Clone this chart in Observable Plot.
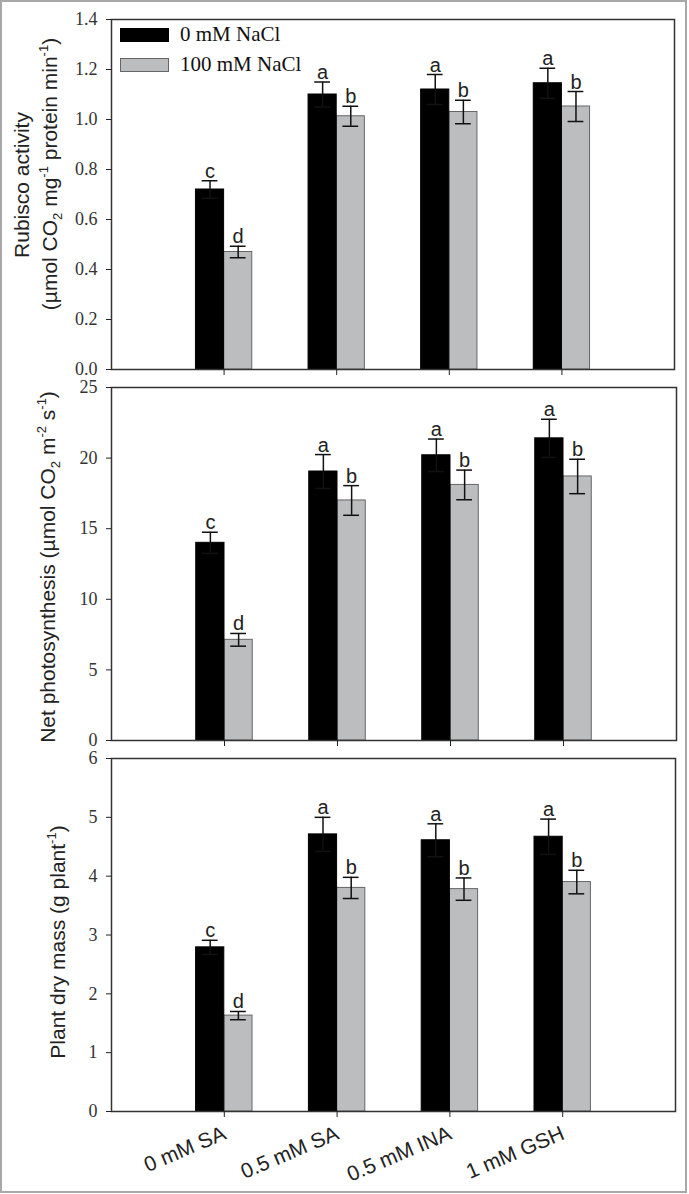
<!DOCTYPE html>
<html>
<head>
<meta charset="utf-8">
<script src="https://cdn.jsdelivr.net/npm/d3@7"></script>
<script src="https://cdn.jsdelivr.net/npm/@observablehq/plot@0.6"></script>
<style>
  html, body { margin: 0; padding: 0; background: #fff; }
  #wrap { position: relative; width: 689px; height: 1194px; overflow: hidden; }
  #border { position: absolute; left: 0; top: 0; width: 683px; height: 1189px; border: 2px solid #a8a8a8; }
  .pane { position: absolute; left: 0; }
  .pane svg { overflow: visible; }
  #legend { position: absolute; left: 120px; top: 28px; font-family: "Liberation Serif", serif; font-size: 21px; color: #111; }
  .lg { position: relative; height: 30px; }
  .sw { position: absolute; left: 0; width: 49px; height: 14px; box-sizing: border-box; }
  .lt { position: absolute; left: 60px; top: -6px; white-space: nowrap; }
</style>
</head>
<body>
<div id="wrap">
  <div id="border"></div>
  <div id="p1" class="pane" style="top:0px"></div>
  <div id="p2" class="pane" style="top:378px"></div>
  <div id="p3" class="pane" style="top:749px"></div>
  <div id="legend"></div>
</div>
<script>
// ---- data ----
const categories = ["0 mM SA", "0.5 mM SA", "0.5 mM INA", "1 mM GSH"];
const treatments = ["0 mM NaCl", "100 mM NaCl"];
const treatmentColors = ["#000000", "#bcbdbf"];

const rubisco0 = [0.72, 1.10, 1.12, 1.145];
const rubisco0Err = [0.035, 0.05, 0.06, 0.06];
const rubisco100 = [0.47, 1.013, 1.03, 1.052];
const rubisco100Err = [0.023, 0.04, 0.047, 0.06];

const photo0 = [14.0, 19.05, 20.2, 21.4];
const photo0Err = [0.75, 1.2, 1.15, 1.35];
const photo100 = [7.13, 17.0, 18.1, 18.7];
const photo100Err = [0.45, 1.05, 1.05, 1.22];

const mass0 = [2.79, 4.71, 4.61, 4.67];
const mass0Err = [0.12, 0.29, 0.28, 0.30];
const mass100 = [1.63, 3.80, 3.78, 3.90];
const mass100Err = [0.07, 0.18, 0.19, 0.20];

const letters0 = ["c", "a", "a", "a"];
const letters100 = ["d", "b", "b", "b"];

const rubiscoTicks = [0, 0.2, 0.4, 0.6, 0.8, 1.0, 1.2, 1.4];
const photoTicks = [0, 5, 10, 15, 20, 25];
const massTicks = [0, 1, 2, 3, 4, 5, 6];

const SERIF = "Liberation Serif";
const SANS = "Liberation Sans";

// ---- helpers ----
function rows(vals, errs, letters, g) {
  return vals.map((v, i) => ({cat: categories[i], pos: i + 1, v, e: errs[i], letter: letters[i], g}));
}

function makePanel(cfg) {
  const r0 = rows(cfg.v0, cfg.e0, letters0, 0);
  const r1 = rows(cfg.v1, cfg.e1, letters100, 1);
  const bw = 0.25;
  const all = [...r0, ...r1];
  const cx = d => d.g === 0 ? d.pos - bw / 2 : d.pos + bw / 2;
  const marks = [
    Plot.rect(r1, {x1: d => d.pos, x2: d => d.pos + bw, y1: 0, y2: "v", fill: treatmentColors[1], stroke: "#666", strokeWidth: 1}),
    Plot.rect(r0, {x1: d => d.pos - bw, x2: d => d.pos, y1: 0, y2: "v", fill: treatmentColors[0], stroke: "#000", strokeWidth: 1}),
    Plot.ruleX(all, {x: cx, y1: d => d.v - d.e, y2: d => d.v + d.e, stroke: "#111", strokeWidth: 1.5}),
    Plot.ruleY(all, {y: d => d.v + d.e, x1: d => cx(d) - 0.07, x2: d => cx(d) + 0.07, stroke: "#111", strokeWidth: 1.5}),
    Plot.ruleY(all, {y: d => d.v - d.e, x1: d => cx(d) - 0.07, x2: d => cx(d) + 0.07, stroke: "#111", strokeWidth: 1.5}),
    Plot.text(all, {x: cx, y: d => d.v + d.e, text: "letter", dy: -3, lineAnchor: "bottom",
      fontFamily: SANS, fontSize: 20, fill: "#222"}),
    Plot.frame({stroke: "#333", strokeWidth: 1.5}),
    Plot.axisY({ticks: cfg.ticks, tickFormat: () => "", tickSize: 5, label: null, stroke: "#222"}),
    Plot.text(cfg.ticks, {y: d => d, text: cfg.fmt, frameAnchor: "left", textAnchor: "end", dx: -14,
      fontFamily: SERIF, fontSize: 18, fill: "#333"}),
    Plot.axisX({ticks: [1, 2, 3, 4], tickFormat: () => "", tickSize: 6, label: null, stroke: "#222"})
  ];
  if (cfg.bottom) {
    marks.push(Plot.text(categories, {x: (d, i) => i + 1, text: d => d, frameAnchor: "bottom", textAnchor: "end",
      rotate: -23, dx: 3, dy: 27, lineAnchor: "bottom", fontFamily: SANS, fontSize: 21, fill: "#222"}));
  }
  const svg = Plot.plot({
    width: 689,
    height: cfg.height,
    marginLeft: 111,
    marginRight: cfg.mr,
    marginTop: cfg.mt,
    marginBottom: cfg.mb,
    style: {background: "transparent", overflow: "visible", fontFamily: SANS, fontSize: "18px", color: "#222"},
    x: {domain: [0, 5]},
    y: {domain: cfg.domain},
    marks
  });
  const s = d3.select(svg);
  // y label
  cfg.labels.forEach(lab => {
    const t = s.append("text")
      .attr("transform", `translate(${lab.x},${lab.cy}) rotate(-90)`)
      .attr("text-anchor", "middle")
      .attr("font-family", SANS)
      .attr("font-size", 21)
      .attr("fill", "#222");
    lab.parts.forEach(p => {
      const ts = t.append("tspan").text(p.t);
      if (p.sup) ts.attr("font-size", 13).attr("dy", -9);
      if (p.sub) ts.attr("font-size", 13).attr("dy", 5);
      if (p.back) ts.attr("dy", p.back);
    });
  });
  return svg;
}

document.getElementById("p1").appendChild(makePanel({
  height: 378, mt: 19, mb: 9, mr: 15, domain: [0, 1.4], ticks: rubiscoTicks, fmt: d3.format(".1f"),
  v0: rubisco0, e0: rubisco0Err, v1: rubisco100, e1: rubisco100Err,
  labels: [
    {x: 29, cy: 185, parts: [{t: "Rubisco activity"}]},
    {x: 57, cy: 174, parts: [{t: "(µmol CO"}, {t: "2", sub: true}, {t: " mg", back: -5}, {t: "-1", sup: true}, {t: " protein min", back: 9}, {t: "-1", sup: true}, {t: ")", back: 9}]}
  ]
}));

document.getElementById("p2").appendChild(makePanel({
  height: 371, mt: 9, mb: 9, mr: 13, domain: [0, 25], ticks: photoTicks, fmt: d3.format("d"),
  v0: photo0, e0: photo0Err, v1: photo100, e1: photo100Err,
  labels: [
    {x: 55, cy: 189, parts: [{t: "Net photosynthesis (µmol CO"}, {t: "2", sub: true}, {t: " m", back: -5}, {t: "-2", sup: true}, {t: " s", back: 9}, {t: "-1", sup: true}, {t: ")", back: 9}]}
  ]
}));

document.getElementById("p3").appendChild(makePanel({
  height: 445, mt: 9, mb: 83, mr: 14, domain: [0, 6], ticks: massTicks, fmt: d3.format("d"), bottom: true,
  v0: mass0, e0: mass0Err, v1: mass100, e1: mass100Err,
  labels: [
    {x: 65, cy: 193, parts: [{t: "Plant dry mass (g plant"}, {t: "-1", sup: true}, {t: ")", back: 9}]}
  ]
}));

// legend
const lg = document.getElementById("legend");
treatments.forEach((name, i) => {
  const row = document.createElement("div");
  row.className = "lg";
  const sw = document.createElement("div");
  sw.className = "sw";
  sw.style.background = treatmentColors[i];
  sw.style.border = i === 0 ? "1px solid #000" : "1px solid #666";
  const tx = document.createElement("div");
  tx.className = "lt";
  tx.textContent = name;
  row.appendChild(sw);
  row.appendChild(tx);
  lg.appendChild(row);
});
</script>
</body>
</html>
